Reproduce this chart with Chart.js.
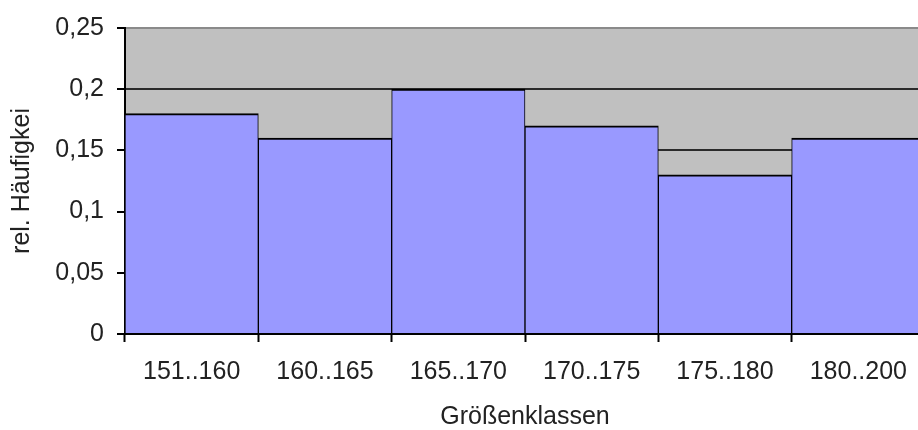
<!DOCTYPE html>
<html>
<head>
<meta charset="utf-8">
<script src="https://cdn.jsdelivr.net/npm/chart.js@4/dist/chart.umd.min.js"></script>
<style>
  html, body { margin: 0; padding: 0; background: #fff; overflow: hidden; width: 918px; height: 430px; }
  canvas { display: block; }
</style>
</head>
<body>
<canvas id="c" width="926" height="430"></canvas>
<script>
const categories = ['151..160', '160..165', '165..170', '170..175', '175..180', '180..200'];
const relFreq = [0.18, 0.16, 0.20, 0.17, 0.13, 0.16];
const yTickLabels = ['0', '0,05', '0,1', '0,15', '0,2', '0,25'];
const xTitle = 'Größenklassen';
const yTitle = 'rel. Häufigkei';

const FONT = "'Liberation Sans', Arial, sans-serif";
const TEXT = '#222';

const plotBg = {
  id: 'plotBg',
  beforeDraw(chart) {
    const a = chart.chartArea, ctx = chart.ctx;
    ctx.save();
    ctx.fillStyle = '#C0C0C0';
    ctx.fillRect(a.left, a.top, a.right - a.left, a.bottom - a.top);
    ctx.restore();
  }
};

new Chart(document.getElementById('c'), {
  type: 'bar',
  data: {
    labels: categories,
    datasets: [{
      data: relFreq,
      backgroundColor: '#9999FF',
      borderColor: '#000',
      borderWidth: { top: 2, left: 1, right: 1, bottom: 0 },
      borderSkipped: false,
      categoryPercentage: 1.0,
      barPercentage: 1.0
    }]
  },
  options: {
    responsive: false,
    animation: false,
    events: [],
    layout: { padding: { left: 0, right: 1, top: 27, bottom: 0 } },
    plugins: { legend: { display: false }, tooltip: { enabled: false } },
    scales: {
      x: {
        grid: {
          offset: true,
          drawOnChartArea: false,
          drawTicks: true,
          tickLength: 8,
          tickColor: '#000',
          tickWidth: 2
        },
        border: { display: true, color: '#000', width: 2 },
        ticks: {
          color: TEXT,
          font: { family: FONT, size: 25 },
          padding: 15,
          maxRotation: 0,
          autoSkip: false
        },
        title: {
          display: true,
          text: xTitle,
          color: TEXT,
          font: { family: FONT, size: 25, lineHeight: 1 },
          padding: { top: 0, bottom: 0 }
        },
        afterFit(scale) { scale.height = 96; }
      },
      y: {
        min: 0,
        max: 0.25,
        ticks: {
          stepSize: 0.05,
          color: TEXT,
          font: { family: FONT, size: 25 },
          padding: 13,
          callback: (v, i) => yTickLabels[i]
        },
        grid: {
          color: (ctx) => ctx.index === 5 ? '#8a8a8a' : '#2a2a2a',
          lineWidth: 2,
          tickLength: 8,
          tickColor: '#000',
          tickWidth: 2
        },
        border: { display: true, color: '#000', width: 2 },
        title: {
          display: true,
          text: yTitle,
          color: TEXT,
          font: { family: FONT, size: 25, lineHeight: 1.2 },
          padding: { top: 7, bottom: 0 }
        },
        afterFit(scale) { scale.width = 125; }
      }
    }
  },
  plugins: [plotBg]
});
</script>
</body>
</html>
